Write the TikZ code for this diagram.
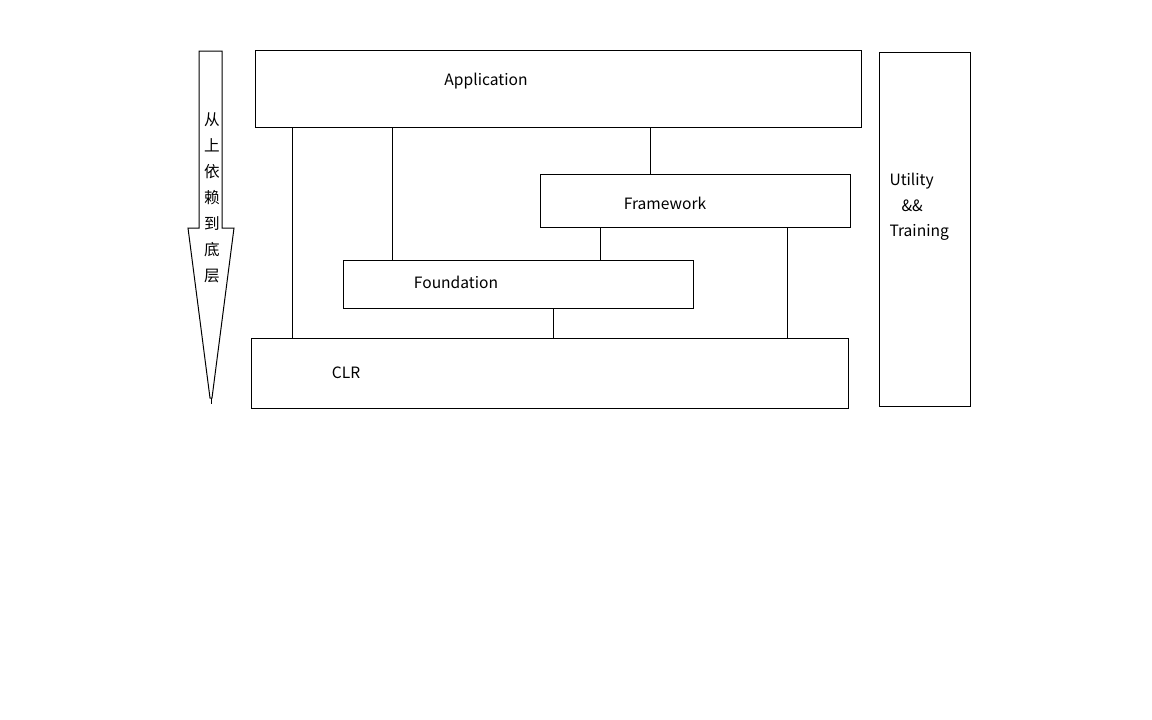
\documentclass[tikz,border=0pt]{standalone}
\usepackage{fontspec}
\setmainfont{Noto Sans CJK SC}
\begin{document}
\begin{tikzpicture}[x=1pt,y=-1pt,line width=1pt,
  box/.style={draw,rectangle,anchor=north west,inner sep=0pt},
  lbl/.style={inner sep=0pt,font=\fontsize{15.6}{18}\selectfont}]
\useasboundingbox (0,0) rectangle (1152,720);
% arrow
\draw (199,51) -- (222,51) -- (222,228) -- (234,228) -- (212,398) -- (210,398)
      -- (188,228) -- (199,228) -- cycle;
\draw (211,398) -- (211,404);
\node[lbl,align=center,font=\fontsize{15.6}{26}\selectfont,anchor=north] (arr) at (212,112)
  {从\\上\\依\\赖\\到\\底\\层};
% boxes
\node[box,minimum width=606,minimum height=77] (app) at (255,50) {};
\node[box,minimum width=91,minimum height=354] (util) at (879,52) {};
\node[box,minimum width=310,minimum height=53] (fw) at (540,174) {};
\node[box,minimum width=350,minimum height=48] (fd) at (343,260) {};
\node[box,minimum width=597,minimum height=70] (clr) at (251,338) {};
% labels
\node[lbl] (tapp) at (486,81) {Application};
\node[lbl] (tfw) at (665,203) {Framework};
\node[lbl] (tfd) at (456,282) {Foundation};
\node[lbl] (tclr) at (346,373) {CLR};
\node[lbl,anchor=west] (tu1) at (889,181) {Utility};
\node[lbl,anchor=west] (tu2) at (901,206) {\&\&};
\node[lbl,anchor=west] (tu3) at (889,232) {Training};
% connectors
\draw (app.south -| 292,0) -- (clr.north -| 292,0);
\draw (app.south -| 392,0) -- (fd.north -| 392,0);
\draw (app.south -| 650,0) -- (fw.north -| 650,0);
\draw (fw.south -| 600,0) -- (fd.north -| 600,0);
\draw (fw.south -| 787,0) -- (clr.north -| 787,0);
\draw (fd.south -| 553,0) -- (clr.north -| 553,0);
\end{tikzpicture}
\end{document}
